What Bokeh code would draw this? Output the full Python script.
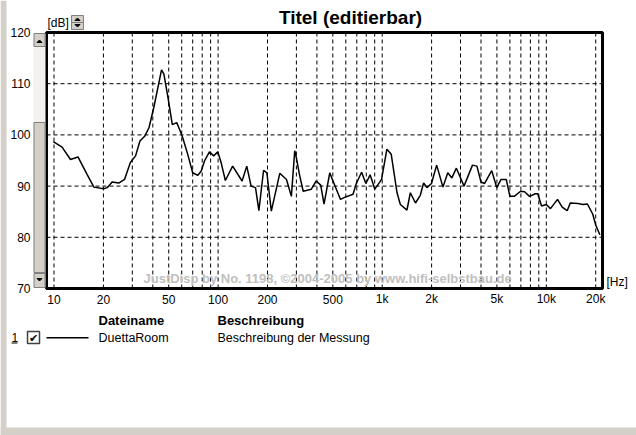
import math
from bokeh.plotting import figure
from bokeh.models import Range1d, LogScale, Label
from bokeh.core.properties import value
from bokeh.embed import file_html
from bokeh.resources import INLINE

# ---------------- data ----------------
freq_hz = [9.9, 11.2, 12.6, 14.0, 15.9, 17.5, 20.1, 21.1, 22.6, 24.8, 26.9, 29.2,
           31.4, 33.4, 35.8, 37.9, 40.6, 45.2, 46.7, 49.5, 52.6, 55.9, 58.2, 60.8,
           65.3, 70.0, 75.2, 78.8, 82.6, 88.5, 94.0, 99.5, 104.3, 110.7, 122.6,
           140.0, 149.5, 158.9, 169.0, 177.2, 189.3, 198.2, 211.0, 237.6, 261.0,
           279.6, 293.0, 300.0, 313.0, 330.0, 370.0, 396.0, 422.0, 442.0, 479.0,
           497.0, 557.0, 590.0, 664.0, 697.0, 749.0, 795.0, 844.0, 902.0, 991.0,
           1068.0, 1135.0, 1231.0, 1290.0, 1415.0, 1484.0, 1595.0, 1706.0, 1788.0,
           1875.0, 1996.0, 2147.0, 2345.0, 2509.0, 2657.0, 2831.0, 3152.0, 3549.0,
           3777.0, 4000.0, 4200.0, 4650.0, 4990.0, 5300.0, 5700.0, 6000.0, 6380.0,
           6970.0, 7370.0, 7900.0, 8570.0, 8870.0, 9350.0, 10000.0, 10600.0,
           11700.0, 12500.0, 13400.0, 14000.0, 15600.0, 16700.0, 17800.0, 19200.0,
           20000.0, 21200.0]
level_db = [98.7, 97.6, 95.2, 95.7, 92.3, 89.8, 89.5, 89.7, 90.8, 90.6, 91.3, 94.6,
            95.9, 98.8, 99.8, 101.4, 105.4, 112.7, 111.9, 107.3, 102.0, 102.4, 101.1, 99.5,
            96.2, 92.6, 92.1, 92.9, 94.9, 96.7, 95.9, 96.7, 94.6, 91.1, 93.9,
            91.0, 93.9, 90.0, 89.7, 85.2, 93.1, 92.6, 85.1, 92.5, 91.3,
            88.0, 96.9, 95.5, 92.3, 89.0, 89.4, 91.0, 90.2, 86.5, 92.6,
            91.3, 87.4, 87.8, 88.4, 90.6, 92.7, 90.5, 92.2, 89.4, 91.3,
            97.2, 96.2, 88.7, 86.4, 85.3, 88.7, 86.7, 88.2, 90.6,
            89.7, 90.5, 94.1, 89.8, 92.6, 91.6, 93.5, 90.0, 94.1,
            93.9, 90.8, 90.5, 93.0, 89.7, 91.3, 91.3, 88.0, 88.0,
            89.0, 88.9, 88.0, 88.5, 88.5, 86.1, 86.4, 85.6,
            87.4, 85.9, 85.2, 86.7, 86.6, 86.4, 86.5, 84.5,
            82.4, 80.5]

x_min, x_max = 9, 22000
y_min, y_max = 70, 120
x_ticks = [10, 20, 50, 100, 200, 500, 1000, 2000, 5000, 10000, 20000]
x_tick_labels = ["10", "20", "50", "100", "200", "500", "1k", "2k", "5k", "10k", "20k"]
x_grid_freqs = [m * d for d in (10, 100, 1000, 10000) for m in range(1, 10) if m * d <= 20000]
y_ticks = [70, 80, 90, 100, 110, 120]
y_tick_labels = ["70", "80", "90", "100", "110", "120"]
y_grid = [80, 90, 100, 110]

title_text = "Titel (editierbar)"
y_unit, x_unit = "[dB]", "[Hz]"
watermark_text = "JustDisp by No. 1198, \u00a92004-2005 by www.hifi-selbstbau.de"
legend_header = ["Dateiname", "Beschreibung"]
legend_row = ["1", "DuettaRoom", "Beschreibung der Messung"]

# ---------------- layout ----------------
W, H = 636, 435
FL, FT, FR, FB = 46, 32, 602, 288          # plot area inside the window
FONT = "Liberation Sans"
WIN_GRAY = "#d4d0c8"

# log frequency range / linear dB range stretched so the plot area lands at FL..FR, FT..FB
lpx = (math.log10(x_max) - math.log10(x_min)) / (FR - FL)
f_left = 10 ** (math.log10(x_min) - FL * lpx)
f_right = 10 ** (math.log10(x_max) + (W - FR) * lpx)
dpx = (y_max - y_min) / (FB - FT)
db_bottom = y_min - (H - FB) * dpx
db_top = y_max + FT * dpx

p = figure(width=W, height=H, title=None, output_backend="svg", toolbar_location=None,
           x_range=Range1d(0, W), y_range=Range1d(H, 0),
           x_axis_location=None, y_axis_location=None,
           min_border_left=0, min_border_right=0, min_border_top=0, min_border_bottom=0)
p.extra_x_ranges = {"freq": Range1d(f_left, f_right)}
p.extra_x_scales = {"freq": LogScale()}
p.extra_y_ranges = {"db": Range1d(db_bottom, db_top)}
p.grid.visible = False
p.outline_line_color = None
p.background_fill_color = "white"
p.border_fill_color = "white"

D = dict(x_range_name="freq", y_range_name="db")

# plot area, grid
p.quad(left=[x_min], right=[x_max], bottom=[y_min], top=[y_max],
       fill_color="white", line_color=None, **D)
p.segment(x0=x_grid_freqs, x1=x_grid_freqs, y0=[y_min] * len(x_grid_freqs),
          y1=[y_max] * len(x_grid_freqs), line_color="black", line_width=1,
          line_dash="4 3", **D)
p.segment(x0=[x_min] * len(y_grid), x1=[x_max] * len(y_grid), y0=y_grid, y1=y_grid,
          line_color="black", line_width=1, line_dash="4 3", **D)

# watermark
p.text(x=[143], y=[278], text=[watermark_text], text_font=value(FONT),
       text_font_size="13px", text_font_style="bold", text_color="#c0c0c0",
       text_baseline="middle", text_align="left")

# measured curve
p.line(freq_hz, level_db, line_color="black", line_width=1.5, **D)

# frame
p.quad(left=[x_min], right=[x_max], bottom=[y_min], top=[y_max],
       fill_color=None, line_color="black", line_width=3, **D)

# tick labels
p.text(x=x_ticks, y=[y_min] * len(x_ticks), text=x_tick_labels, y_offset=10.5,
       text_font=value(FONT), text_font_size="12px", text_color="black",
       text_align="center", text_baseline="middle", **D)
p.text(x=[x_min] * len(y_ticks), y=y_ticks, text=y_tick_labels, x_offset=-16,
       text_font=value(FONT), text_font_size="12px", text_color="black",
       text_align="right", text_baseline="middle", **D)


# ---------------- window chrome (window pixels) ----------------
def box(x0, y0, x1, y1, fill, line=None, lw=1):
    p.quad(left=[x0], right=[x1], top=[y0], bottom=[y1],
           fill_color=fill, line_color=line, line_width=lw)


def tri(pts, color="black"):
    p.patch([a for a, b in pts], [b for a, b in pts], fill_color=color, line_color=color)


def label(text, X, Y, size="12px", style="normal", align="left", color="black"):
    p.add_layout(Label(x=X, y=Y, text=text, text_font=FONT, text_font_size=size,
                       text_font_style=style, text_align=align,
                       text_baseline="middle", text_color=color))


box(0, 0, 6, H, WIN_GRAY)
box(0, 427, W, H, WIN_GRAY)

# vertical scroll bar
box(33, 33, 45, 287, "#f3f2ee", None)
box(33.5, 122, 44.5, 272, WIN_GRAY, "#808080")
box(33.5, 33, 44.5, 46, WIN_GRAY, "#808080")
box(33.5, 273, 44.5, 287, WIN_GRAY, "#808080")
tri([(36.5, 42), (41.5, 42), (39, 39.5)])
tri([(36.5, 278), (41.5, 278), (39, 280.5)])

# spinner next to [dB]
box(71, 15, 83, 22, WIN_GRAY, "#808080")
box(71, 22, 83, 29, WIN_GRAY, "#808080")
tri([(74.5, 20), (79.5, 20), (77, 17.5)])
tri([(74.5, 24), (79.5, 24), (77, 26.5)])

# texts
label(title_text, 350, 17, size="19px", style="bold", align="center")
label(y_unit, 47, 22)
label(x_unit, 606, 281)

# legend
label(legend_row[0], 11, 337)
box(11, 342, 17, 343, "black")
box(27, 331, 39, 343, "white", "#404040", 1.5)
label("\u2714", 33, 337, size="11px", align="center")
box(46, 336.5, 88, 338, "black")
label(legend_header[0], 98, 320, size="13px", style="bold")
label(legend_row[1], 98, 337, size="12.5px")
label(legend_header[1], 217, 320, size="13px", style="bold")
label(legend_row[2], 217, 337, size="12.5px")

open("out.html", "w").write(file_html(p, INLINE))
